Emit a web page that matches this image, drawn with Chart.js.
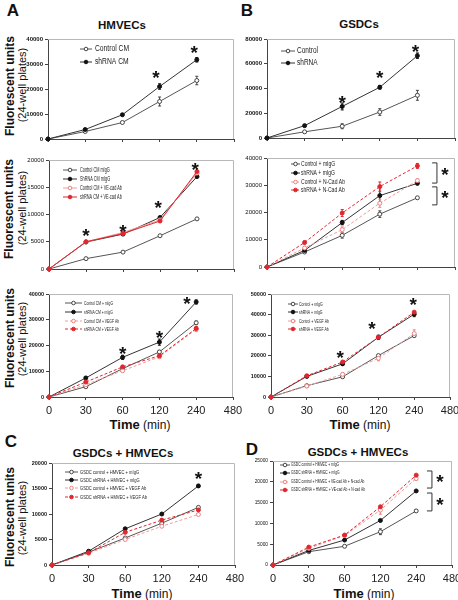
<!DOCTYPE html>
<html lang="en">
<head>
<meta charset="UTF-8" />
<title>Fluorescence time course</title>
<script src="https://cdn.jsdelivr.net/npm/chart.js"></script>
<style>
  body { margin: 0; background: #fff; font-family: 'Liberation Sans', Arial, sans-serif; }
  #fig { position: relative; width: 458px; height: 600px; overflow: hidden; }
  canvas { position: absolute; }
  .lbl { position: absolute; white-space: nowrap; color: #111; line-height: 1; transform: translate(-50%, -50%); }
  .letter { font-weight: bold; font-size: 17px; }
  .title { font-weight: bold; font-size: 11.5px; }
  .yt { transform: translate(-50%, -50%) rotate(-90deg); }
  .yt1 { font-weight: bold; font-size: 12px; }
  .yt2 { font-size: 11px; }
  .time { font-size: 12px; }
  .time b { font-size: 13px; }
</style>
</head>
<body>
<div id="fig">
  <div class="lbl letter" style="left:13px;top:10px">A</div>
  <div class="lbl letter" style="left:247px;top:10px">B</div>
  <div class="lbl letter" style="left:11px;top:441px">C</div>
  <div class="lbl letter" style="left:252px;top:449px">D</div>

  <div class="lbl title" style="left:122px;top:26px">HMVECs</div>
  <div class="lbl title" style="left:359px;top:25px">GSDCs</div>
  <div class="lbl title" style="left:123px;top:454px">GSDCs + HMVECs</div>
  <div class="lbl title" style="left:358px;top:453px">GSDCs + HMVECs</div>

  <div class="lbl yt yt1" style="left:10px;top:86px">Fluorescent units</div>
  <div class="lbl yt yt2" style="left:22px;top:85px">(24-well plates)</div>
  <div class="lbl yt yt1" style="left:9px;top:209px">Fluorescent units</div>
  <div class="lbl yt yt2" style="left:22px;top:208px">(24-well plates)</div>
  <div class="lbl yt yt1" style="left:10px;top:338px">Fluorescent units</div>
  <div class="lbl yt yt2" style="left:22px;top:339px">(24-well plates)</div>
  <div class="lbl yt yt1" style="left:10px;top:517px">Fluorescent units</div>
  <div class="lbl yt yt2" style="left:22px;top:518px">(24-well plates)</div>

  <div class="lbl time" style="left:140px;top:424px"><b>Time</b> (min)</div>
  <div class="lbl time" style="left:360px;top:424px"><b>Time</b> (min)</div>
  <div class="lbl time" style="left:142px;top:593px"><b>Time</b> (min)</div>
  <div class="lbl time" style="left:364px;top:593px"><b>Time</b> (min)</div>
</div>

<script>
  const timePoints = ['0', '30', '60', '120', '240', '480'];

  // A top: HMVECs with conditioned medium
  const hmvecControlCM = [0, 3000, 6600, 15000, 23400];
  const hmvecShrnaCM = [0, 3800, 9700, 21000, 31700];
  const hmvecControlCMErr = [0, 300, 400, 1800, 1700];
  const hmvecShrnaCMErr = [0, 300, 400, 1100, 900];

  // B top: GSDCs
  const gsdcControl = [0, 5000, 9500, 21000, 34500];
  const gsdcShrna = [0, 10000, 25500, 41000, 66500];
  const gsdcControlErr = [0, 800, 2000, 2700, 4000];
  const gsdcShrnaErr = [0, 800, 2800, 1500, 2200];

  // A middle: VE-cad blocking
  const veCtrlIgG = [0, 1900, 3100, 6100, 9200];
  const veShIgG = [0, 4950, 6400, 9450, 16950];
  const veCtrlAb = [0, 5000, 6700, 9000, 17600];
  const veShAb = [0, 5000, 6500, 8800, 17900];

  // B middle: N-Cad blocking
  const ncCtrlIgG = [0, 5500, 11600, 19400, 25400];
  const ncShIgG = [0, 6100, 16300, 26200, 30700];
  const ncCtrlAb = [0, 7000, 13700, 23400, 31700];
  const ncShAb = [0, 9000, 19800, 29500, 37100];
  const ncCtrlIgGErr = [0, 300, 1000, 1200, 400];
  const ncShIgGErr = [0, 300, 800, 3000, 500];
  const ncCtrlAbErr = [0, 500, 1000, 1500, 600];
  const ncShAbErr = [0, 500, 1300, 1700, 900];

  // A bottom: VEGF blocking on HMVECs
  const vgCtrlIgG = [0, 4000, 11000, 17500, 28800];
  const vgShIgG = [0, 7400, 15400, 21300, 36900];
  const vgCtrlAb = [0, 4800, 10200, 15600, 26300];
  const vgShAb = [0, 5800, 11700, 16000, 26600];
  const vgCtrlIgGErr = [0, 300, 500, 600, 700];
  const vgShIgGErr = [0, 400, 800, 1200, 800];
  const vgCtrlAbErr = [0, 300, 400, 500, 900];
  const vgShAbErr = [0, 400, 500, 500, 700];

  // B bottom: VEGF blocking on GSDCs
  const gvCtrlIgG = [0, 5500, 9800, 20100, 29800];
  const gvShIgG = [0, 10000, 16100, 29000, 40200];
  const gvCtrlAb = [0, 5300, 11000, 18800, 30800];
  const gvShAb = [0, 10300, 17000, 29000, 41200];
  const gvShIgGErr = [0, 500, 800, 1000, 1200];
  const gvCtrlAbErr = [0, 300, 700, 1200, 1800];

  // C: co-culture, VEGF Ab
  const coCtrlIgG = [0, 2500, 5300, 8200, 11300];
  const coShIgG = [0, 2700, 7100, 10000, 15500];
  const coCtrlAb = [0, 2300, 5000, 7600, 9900];
  const coShAb = [0, 2400, 6400, 8800, 10800];
  const coShIgGErr = [0, 150, 150, 150, 300];

  // D: co-culture, VE-cad + N-cad Ab
  const cdCtrlIgG = [0, 3200, 4500, 8000, 13000];
  const cdShIgG = [0, 3500, 6000, 10700, 17800];
  const cdCtrlAb = [0, 4000, 7100, 13200, 20800];
  const cdShAb = [0, 4300, 7200, 14000, 21600];
  const cdCtrlIgGErr = [0, 200, 200, 700, 300];
  const cdCtrlAbErr = [0, 200, 300, 1000, 400];

  // significance marks: [category index, value]
  const aTopStars = [[2.9, 26400], [3.93, 36600]];
  const bTopStars = [[2, 32300], [3, 52500], [3.95, 73500]];
  const aMidStars = [[1, 7000], [2, 7700], [2.95, 12100], [3.95, 19100]];
  const aBotStars = [[2, 18600], [3, 24900], [3.75, 38000]];
  const bBotStars = [[1.93, 21400], [2.82, 35400], [3.97, 47100]];
  const cStars = [[4, 17800]];
  const bMidStars = [[4.73, 35600], [4.73, 27200]];
  const dStars = [[4.66, 21200], [4.66, 15600]];
  // brackets: [index left, index right, low, high]
  const bMidBrackets = [[4.39, 4.52, 30800, 38200], [4.39, 4.52, 22800, 29400]];
  const dBrackets = [[4.3, 4.44, 18500, 22600], [4.3, 4.44, 13000, 17300]];

  const FONT = "'Liberation Sans', Arial, sans-serif";
  Chart.defaults.font.family = FONT;
  Chart.defaults.color = '#111';

  const STYLES = {
    ctrl:   { line: '#555', fill: '#fff', edge: '#444', dash: [] },
    sh:     { line: '#333', fill: '#111', edge: '#111', dash: [] },
    ctrlAb: { line: '#f29a9a', fill: '#fff', edge: '#ee8080', dash: [3, 2] },
    shAb:   { line: '#e0262e', fill: '#e0262e', edge: '#e0262e', dash: [3, 2] }
  };

  function ds(label, data, errs, kind, solid) {
    const s = STYLES[kind];
    return {
      label, data, errs,
      borderColor: s.line, borderWidth: 1, borderDash: solid ? [] : s.dash,
      pointBackgroundColor: s.fill, pointBorderColor: s.edge, pointBorderWidth: 1,
      pointRadius: 2, pointStyle: 'circle', tension: 0, clip: false
    };
  }

  const decor = {
    id: 'decor',
    beforeDatasetsDraw(chart, args, o) {
      const { ctx, chartArea: a, scales: { y } } = chart;
      ctx.save();
      ctx.strokeStyle = '#b8b8b8';
      ctx.lineWidth = 1;
      ctx.beginPath();
      ctx.moveTo(a.left, a.top + 0.5);
      ctx.lineTo(a.right - 0.5, a.top + 0.5);
      ctx.lineTo(a.right - 0.5, a.bottom);
      ctx.stroke();
      chart.data.datasets.forEach((d, i) => {
        if (!d.errs) return;
        const meta = chart.getDatasetMeta(i);
        ctx.strokeStyle = d.pointBorderColor;
        d.errs.forEach((e, j) => {
          if (!e) return;
          const px = meta.data[j].x;
          const hi = y.getPixelForValue(d.data[j] + e);
          const lo = y.getPixelForValue(d.data[j] - e);
          ctx.beginPath();
          ctx.moveTo(px, hi); ctx.lineTo(px, lo);
          ctx.moveTo(px - 1.5, hi); ctx.lineTo(px + 1.5, hi);
          ctx.moveTo(px - 1.5, lo); ctx.lineTo(px + 1.5, lo);
          ctx.stroke();
        });
      });
      ctx.restore();
    },
    afterDraw(chart, args, o) {
      const { ctx, scales: { x, y } } = chart;
      ctx.save();
      // legend
      const lg = o.legend;
      ctx.font = lg.size + 'px ' + FONT;
      const longest = Math.max(...chart.data.datasets.map(d => ctx.measureText(d.label).width));
      const k = Math.min(1, lg.textW / longest);
      chart.data.datasets.forEach((d, i) => {
        const ry = lg.rows[i] - o.oy;
        const x0 = lg.line[0] - o.ox, x1 = lg.line[1] - o.ox;
        ctx.strokeStyle = d.borderColor;
        ctx.lineWidth = 1;
        ctx.setLineDash(d.borderDash);
        ctx.beginPath(); ctx.moveTo(x0, ry); ctx.lineTo(x1, ry); ctx.stroke();
        ctx.setLineDash([]);
        ctx.beginPath(); ctx.arc((x0 + x1) / 2, ry, 1.8, 0, Math.PI * 2);
        ctx.fillStyle = d.pointBackgroundColor; ctx.fill();
        ctx.strokeStyle = d.pointBorderColor; ctx.stroke();
        ctx.fillStyle = '#222';
        ctx.textAlign = 'left';
        ctx.textBaseline = 'middle';
        ctx.fillText(d.label, lg.textX - o.ox, ry, ctx.measureText(d.label).width * k);
      });
      // brackets
      ctx.strokeStyle = '#333';
      (o.brackets || []).forEach(([i0, i1, lo, hi]) => {
        const bx0 = x.getPixelForValue(i0), bx1 = x.getPixelForValue(i1);
        const yh = y.getPixelForValue(hi), yl = y.getPixelForValue(lo);
        ctx.beginPath();
        ctx.moveTo(bx0, yh); ctx.lineTo(bx1, yh); ctx.lineTo(bx1, yl); ctx.lineTo(bx0, yl);
        ctx.stroke();
      });
      // asterisks
      ctx.fillStyle = '#111';
      ctx.font = 'bold 19px ' + FONT;
      ctx.textAlign = 'center';
      ctx.textBaseline = 'alphabetic';
      (o.stars || []).forEach(([i, v]) => {
        ctx.fillText('*', x.getPixelForValue(i), y.getPixelForValue(v) + 19 * 0.58);
      });
      ctx.restore();
    }
  };

  function panel(p) {
    const [L, T, R, B] = p.box;
    const yw = 40, padT = 6;
    const padR = p.xLabels ? 14 : 6;
    const xh = p.xLabels ? 22 : 6;
    const cv = document.createElement('canvas');
    cv.width = R - L + yw + padR;
    cv.height = B - T + padT + xh;
    const ox = L - yw, oy = T - padT;
    cv.style.left = ox + 'px';
    cv.style.top = oy + 'px';
    document.getElementById('fig').appendChild(cv);
    p.datasets.forEach((d, i) => { d.order = -i; });
    new Chart(cv, {
      type: 'line',
      data: { labels: timePoints, datasets: p.datasets },
      options: {
        responsive: false,
        animation: false,
        devicePixelRatio: 1,
        layout: { padding: { left: 0, top: padT, right: padR, bottom: 0 } },
        scales: {
          x: {
            offset: false,
            grid: { drawOnChartArea: false, drawTicks: true, tickLength: 3, color: '#444', offset: false },
            border: { color: '#444' },
            ticks: { display: p.xLabels, font: { size: 11 }, color: '#222', padding: 4, maxRotation: 0, autoSkip: false },
            afterFit: s => { s.height = xh; }
          },
          y: {
            min: 0, max: p.max,
            grid: { drawOnChartArea: false, tickLength: 3, color: '#444' },
            border: { color: '#444' },
            ticks: {
              stepSize: p.step, color: '#111', padding: 2, callback: v => v,
              font: { size: p.tick, weight: p.tickBold ? 'bold' : 'normal' }
            },
            afterFit: s => { s.width = yw; }
          }
        },
        plugins: {
          legend: { display: false },
          tooltip: { enabled: false },
          decor: { legend: p.legend, stars: p.stars, brackets: p.brackets, ox, oy }
        }
      },
      plugins: [decor]
    });
  }

  panel({
    box: [48, 39, 234, 139], max: 40000, step: 10000, tick: 6, tickBold: true, xLabels: false,
    datasets: [
      ds('Control CM', hmvecControlCM, hmvecControlCMErr, 'ctrl'),
      ds('shRNA CM', hmvecShrnaCM, hmvecShrnaCMErr, 'sh')
    ],
    legend: { rows: [49, 62], line: [80, 92], textX: 95, textW: 34, size: 8.5 },
    stars: aTopStars
  });

  panel({
    box: [267, 39, 455, 138], max: 80000, step: 20000, tick: 6, tickBold: true, xLabels: false,
    datasets: [
      ds('Control', gsdcControl, gsdcControlErr, 'ctrl'),
      ds('shRNA', gsdcShrna, gsdcShrnaErr, 'sh')
    ],
    legend: { rows: [51, 63], line: [281, 295], textX: 297, textW: 21, size: 8.5 },
    stars: bTopStars
  });

  panel({
    box: [49, 160, 234, 269], max: 20000, step: 5000, tick: 6, xLabels: false,
    datasets: [
      ds('Control CM mIgG', veCtrlIgG, null, 'ctrl'),
      ds('ShRNA CM mIgG', veShIgG, null, 'sh'),
      ds('Control CM + VE-cad Ab', veCtrlAb, null, 'ctrlAb', true),
      ds('shRNA CM + VE-cad Ab', veShAb, null, 'shAb', true)
    ],
    legend: { rows: [170, 179, 188, 197], line: [63, 77], textX: 80, textW: 42, size: 7 },
    stars: aMidStars
  });

  panel({
    box: [267, 158, 455, 267], max: 40000, step: 10000, tick: 6, xLabels: false,
    datasets: [
      ds('Control + mIgG', ncCtrlIgG, ncCtrlIgGErr, 'ctrl'),
      ds('shRNA + mIgG', ncShIgG, ncShIgGErr, 'sh'),
      ds('Control + N-Cad Ab', ncCtrlAb, ncCtrlAbErr, 'ctrlAb'),
      ds('shRNA + N-Cad Ab', ncShAb, ncShAbErr, 'shAb')
    ],
    legend: { rows: [164, 173, 182, 190], line: [291, 300], textX: 301, textW: 44, size: 7 },
    stars: bMidStars, brackets: bMidBrackets
  });

  panel({
    box: [49, 294, 233, 397], max: 40000, step: 10000, tick: 5.5, tickBold: true, xLabels: true,
    datasets: [
      ds('Control CM + mIgG', vgCtrlIgG, vgCtrlIgGErr, 'ctrl'),
      ds('shRNA CM + mIgG', vgShIgG, vgShIgGErr, 'sh'),
      ds('Control CM + VEGF Ab', vgCtrlAb, vgCtrlAbErr, 'ctrlAb'),
      ds('shRNA CM + VEGF Ab', vgShAb, vgShAbErr, 'shAb')
    ],
    legend: { rows: [303, 312, 321, 329], line: [65, 82], textX: 84, textW: 35, size: 6 },
    stars: aBotStars
  });

  panel({
    box: [271, 294, 450, 397], max: 50000, step: 10000, tick: 5.5, tickBold: true, xLabels: true,
    datasets: [
      ds('Control + mIgG', gvCtrlIgG, null, 'ctrl'),
      ds('shRNA + mIgG', gvShIgG, gvShIgGErr, 'sh'),
      ds('Control + VEGF Ab', gvCtrlAb, gvCtrlAbErr, 'ctrlAb'),
      ds('shRNA + VEGF Ab', gvShAb, null, 'shAb')
    ],
    legend: { rows: [304, 312, 321, 329], line: [288, 298], textX: 299, textW: 30, size: 6 },
    stars: bBotStars
  });

  panel({
    box: [52, 463, 235, 565], max: 20000, step: 5000, tick: 5.5, tickBold: true, xLabels: true,
    datasets: [
      ds('GSDC control + HMVEC + mIgG', coCtrlIgG, null, 'ctrl'),
      ds('GSDC shRNA + HMVEC + mIgG', coShIgG, coShIgGErr, 'sh'),
      ds('GSDC control + HMVEC + VEGF Ab', coCtrlAb, null, 'ctrlAb'),
      ds('GSDC shRNA + HMVEC + VEGF Ab', coShAb, null, 'shAb')
    ],
    legend: { rows: [472, 480, 488, 497], line: [65, 78], textX: 80, textW: 67, size: 6 },
    stars: cStars
  });

  panel({
    box: [273, 461, 452, 565], max: 25000, step: 5000, tick: 4.8, xLabels: true,
    datasets: [
      ds('GSDC control + HMVEC + mIgG', cdCtrlIgG, cdCtrlIgGErr, 'ctrl'),
      ds('GSDC shRNA + HMVEC + mIgG', cdShIgG, null, 'sh'),
      ds('GSDC control + HMVEC + VE-cad Ab + N-cad Ab', cdCtrlAb, cdCtrlAbErr, 'ctrlAb'),
      ds('GSDC shRNA + HMVEC + VE-cad Ab + N-cad Ab', cdShAb, null, 'shAb')
    ],
    legend: { rows: [465, 473, 482, 490], line: [280, 290], textX: 291, textW: 74, size: 5 },
    stars: dStars, brackets: dBrackets
  });
</script>
</body>
</html>
